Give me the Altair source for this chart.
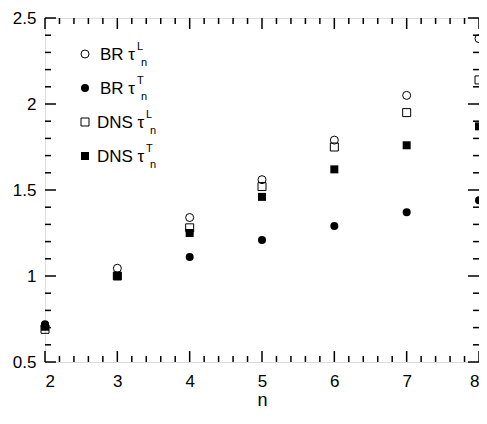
import altair as alt
import pandas as pd

# ---- data ----
n_vals = [2, 3, 4, 5, 6, 7, 8]
br_L = [0.71, 1.045, 1.34, 1.56, 1.79, 2.05, 2.38]
br_T = [0.72, 1.00, 1.11, 1.21, 1.29, 1.37, 1.44]
dns_L = [0.69, 1.00, 1.28, 1.52, 1.75, 1.95, 2.14]
dns_T = [0.705, 1.00, 1.25, 1.46, 1.62, 1.76, 1.87]

x_major = [2, 3, 4, 5, 6, 7, 8]
y_major = [0.5, 1.0, 1.5, 2.0, 2.5]
x_minor = [round(2 + 0.2 * i, 2) for i in range(31) if i % 5 != 0]
y_minor = [round(0.5 + 0.1 * i, 2) for i in range(21) if i % 5 != 0]

legend_prefix = ["BR τ", "BR τ", "DNS τ", "DNS τ"]
legend_sup = ["L", "T", "L", "T"]
legend_sub = ["n", "n", "n", "n"]

W, H = 434, 344
FONT = "Liberation Sans"

xs = alt.Scale(domain=[2, 8], nice=False, zero=False)
ys = alt.Scale(domain=[0.5, 2.5], nice=False, zero=False)

df = pd.DataFrame({"n": n_vals, "br_L": br_L, "br_T": br_T, "dns_L": dns_L, "dns_T": dns_T})

xaxis = alt.Axis(values=x_major, ticks=False, domain=False, grid=False, tickSize=0,
                 labelPadding=11, labelFontSize=17, labelFont=FONT, labelColor="black",
                 title="n", titleFontSize=18, titleFont=FONT, titleFontWeight="normal",
                 titleColor="black", titlePadding=2, labelExpr="datum.value + ''")
yaxis = alt.Axis(values=y_major, ticks=False, domain=False, grid=False, tickSize=0,
                 labelPadding=9, labelFontSize=17, labelFont=FONT, labelColor="black",
                 title=None, labelExpr="datum.value + ''")

base = alt.Chart(df)

def series(col, shape, filled):
    return base.mark_point(shape=shape, filled=filled, size=64, color="black",
                           strokeWidth=1, opacity=1).encode(
        x=alt.X("n:Q", scale=xs, axis=xaxis),
        y=alt.Y(f"{col}:Q", scale=ys, axis=yaxis),
    )

layers = [
    series("br_L", "circle", False),
    series("br_T", "circle", True),
    series("dns_L", "square", False),
    series("dns_T", "square", True),
]

# inward ticks on all four sides
MAJ, MIN = 11, 6
xmaj = alt.Chart(pd.DataFrame({"v": x_major}))
xmin = alt.Chart(pd.DataFrame({"v": x_minor}))
ymaj = alt.Chart(pd.DataFrame({"v": y_major}))
ymin = alt.Chart(pd.DataFrame({"v": y_minor}))
tick = dict(color="black", strokeWidth=1.5)
for src, L in [(xmaj, MAJ), (xmin, MIN)]:
    layers.append(src.mark_rule(**tick).encode(x=alt.X("v:Q", scale=xs), y=alt.value(H), y2=alt.value(H - L)))
    layers.append(src.mark_rule(**tick).encode(x=alt.X("v:Q", scale=xs), y=alt.value(0), y2=alt.value(L)))
for src, L in [(ymaj, MAJ), (ymin, MIN)]:
    layers.append(src.mark_rule(**tick).encode(y=alt.Y("v:Q", scale=ys), x=alt.value(0), x2=alt.value(L)))
    layers.append(src.mark_rule(**tick).encode(y=alt.Y("v:Q", scale=ys), x=alt.value(W), x2=alt.value(W - L)))

# manual legend
one = alt.Chart(pd.DataFrame({"a": [0]}))
shapes = [("circle", False), ("circle", True), ("square", False), ("square", True)]
row_y = [37, 71, 105, 139]
text_x = [55, 55, 52, 52]
sup_x = [92, 92, 101, 101]
for i in range(4):
    shp, fil = shapes[i]
    layers.append(one.mark_point(shape=shp, filled=fil, size=64, color="black", strokeWidth=1,
                                 opacity=1).encode(x=alt.value(40), y=alt.value(row_y[i] - 1)))
    layers.append(one.mark_text(align="left", baseline="middle", font=FONT, fontSize=17,
                                color="black").encode(x=alt.value(text_x[i]), y=alt.value(row_y[i]),
                                                      text=alt.value(legend_prefix[i])))
    layers.append(one.mark_text(align="left", baseline="middle", font=FONT, fontSize=11,
                                color="black").encode(x=alt.value(sup_x[i]), y=alt.value(row_y[i] - 8),
                                                      text=alt.value(legend_sup[i])))
    layers.append(one.mark_text(align="left", baseline="middle", font=FONT, fontSize=11,
                                color="black").encode(x=alt.value(sup_x[i] + 4), y=alt.value(row_y[i] + 8),
                                                      text=alt.value(legend_sub[i])))

chart = alt.layer(*layers).properties(
    width=W, height=H,
    autosize=alt.AutoSizeParams(type="none"),
    padding={"left": 37, "top": 10, "right": 0, "bottom": 46},
).configure_view(stroke="black", strokeWidth=1.5).configure(background="white")

chart.save("out.html", embed_options={"renderer": "svg", "actions": False})
